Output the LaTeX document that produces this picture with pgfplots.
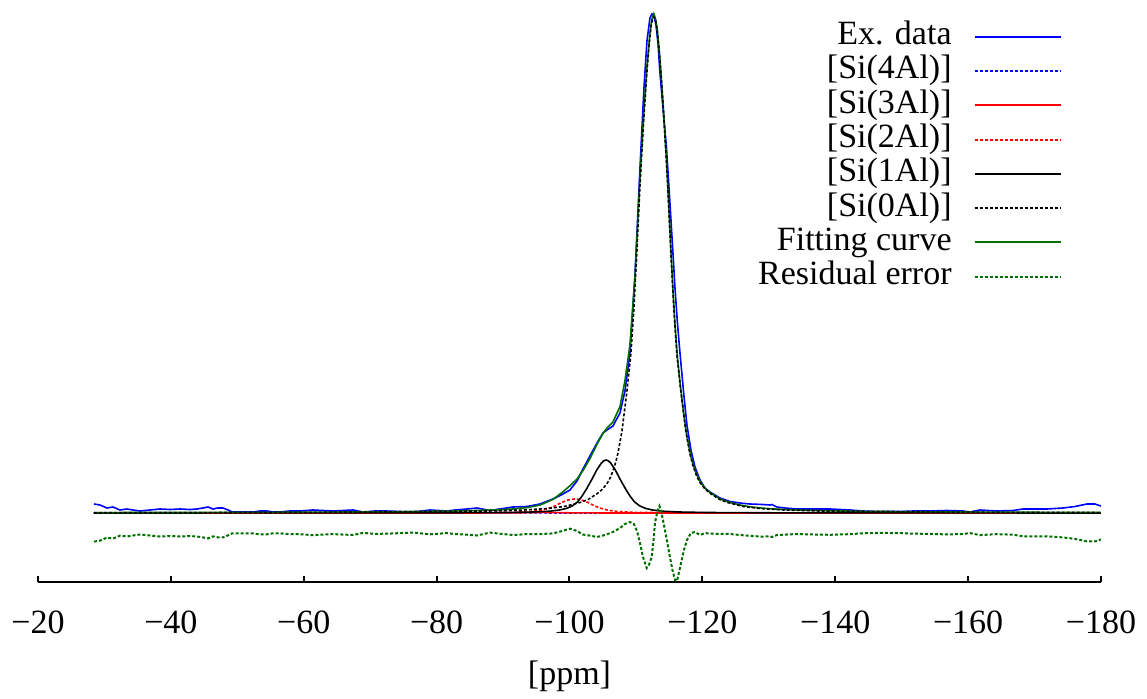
\documentclass[border=0pt]{standalone}
\usepackage{fontspec}
\setmainfont{Liberation Serif}
\usepackage{pgfplots}
\pgfplotsset{compat=1.18}
\newcommand\ff{\fontsize{17}{20}\selectfont}
\definecolor{dg}{RGB}{0,110,0}
\begin{document}
\begin{tikzpicture}
\begin{axis}[name=ax, scale only axis, width=531.5pt, height=291pt,
  x dir=reverse, xmin=-180, xmax=-20, ymin=-69, ymax=513,
  axis x line*=bottom, axis y line=none, axis line style={line width=1pt,-},
  xtick={-20,-40,-60,-80,-100,-120,-140,-160,-180},
  xticklabels={−20,−40,−60,−80,−100,−120,−140,−160,−180},
  xtick align=inside, major tick length=3pt, tick style={line width=1pt, black},
  tick label style={font=\ff}, xticklabel style={yshift=-11pt},
  xlabel={[ppm]}, label style={font=\ff},
  xlabel style={at={(axis description cs:0.5,0)}, anchor=center, yshift=-47pt},
  legend plot pos=right, legend cell align=right,
  legend image code/.code={\draw[#1] (0pt,0pt) -- (43pt,0pt);},
  legend style={at={(rel axis cs:0.969,0.974)}, anchor=north east, draw=none, fill=none,
    font=\ff, row sep=0pt, /tikz/column sep=10pt,
    nodes={inner xsep=1pt, inner ysep=0pt, text height=12.5pt, text depth=4.65pt}},
  every axis plot/.append style={line width=0.8pt},
  dotted style/.style={dash pattern=on 1.5pt off 1pt},
]
\addlegendimage{draw=blue, line width=1pt}
\addlegendentry{Ex. data}
\addlegendimage{draw=blue, line width=1pt, dash pattern=on 1.5pt off 1pt}
\addlegendentry{[Si(4Al)]}
\addlegendimage{draw=red, line width=1pt}
\addlegendentry{[Si(3Al)]}
\addlegendimage{draw=red, line width=1pt, dash pattern=on 1.5pt off 1pt}
\addlegendentry{[Si(2Al)]}
\addlegendimage{draw=black, line width=1pt}
\addlegendentry{[Si(1Al)]}
\addlegendimage{draw=black, line width=1pt, dash pattern=on 1.5pt off 1pt}
\addlegendentry{[Si(0Al)]}
\addlegendimage{draw=dg, line width=1pt}
\addlegendentry{Fitting curve}
\addlegendimage{draw=dg, line width=1pt, dash pattern=on 1.5pt off 1pt}
\addlegendentry{Residual error}

% Ex. data
\addplot[blue, forget plot] coordinates {
(-28.43,9)(-29.33,8)(-30.39,5)(-31.29,6)(-32.34,3)(-33.40,4)(-34.30,3)(-35.35,2)(-36.86,3)(-38.36,4)
(-39.87,3.5)(-41.37,4)(-42.88,3.5)(-43.93,4)(-44.83,5)(-45.59,6)(-46.34,4)(-47.09,5)(-47.84,5)(-48.60,3)
(-49.20,1)(-50.40,1)(-52.36,1)(-53.41,2)(-54.47,2)(-55.37,1)(-56.42,1)(-57.93,2)(-59.43,2)(-61.39,3)
(-62.90,2.5)(-64.40,2)(-65.91,2.5)(-67.41,3)(-68.92,1)(-70.72,2)(-72.53,2)(-74.49,1.5)(-76.44,1)(-79.00,3)
(-81.56,2)(-82.76,3)(-84.57,4)(-86.08,5)(-88.03,2.5)(-89.54,4)(-91.49,6)(-93.60,6.5)(-95.56,9)(-97.51,14)
(-99.02,19)(-100.07,23)(-101.13,32)(-102.03,44)(-103.08,57)(-104.14,70)(-105.04,80)(-105.64,83)(-106.54,87)
(-107.60,100)(-108.35,122)(-109.10,160)(-109.86,238)(-110.61,345)(-111.21,425)(-111.66,472)(-112.11,495)
(-112.41,499)(-112.72,497)(-113.02,488)(-113.32,470)(-113.62,440)(-114.07,405)(-114.60,365)(-115.12,310)
(-115.50,268)(-115.88,225)(-116.25,190)(-116.63,160)(-117.23,117)(-117.68,88)(-118.28,63)(-118.89,46)
(-119.64,33)(-120.39,25)(-121.14,21)(-122.65,15)(-124.15,11.5)(-125.66,10)(-127.16,9)(-129.12,8.5)
(-130.17,8)(-130.47,8.5)(-131.23,6)(-132.43,5)(-134.24,4)(-136.19,4)(-139.21,4)(-142.22,3)(-144.17,2)
(-146.73,1.5)(-149.74,1.5)(-151.70,2)(-154.26,2)(-156.81,2.5)(-159.22,2)(-160.28,1)(-161.78,3)(-164.34,2)
(-166.75,2.5)(-168.25,4)(-170.06,4)(-171.87,4)(-174.27,5)(-176.08,6.5)(-177.89,9)(-179.09,9)(-180,7)
};
% Si(4Al)
\addplot[blue, dotted style, forget plot] coordinates {
(-28.43,0)(-80,0)(-86,0.1)(-90,0.4)(-94,0.1)(-100,0)(-180,0)
};
% Si(3Al)
\addplot[red, forget plot] coordinates {
(-28.43,0)(-85,0)(-92,0.2)(-96,0.6)(-100,0.2)(-106,0)(-180,0)
};
% Si(2Al)
\addplot[red, dotted style, forget plot] coordinates {
(-28.43,0)(-75.8,0.1)(-86.8,0.3)(-91.8,0.7)(-94.3,1.5)(-95.8,2.8)(-96.8,4.5)(-97.8,7)(-98.8,10.5)
(-99.8,13)(-100.3,13.75)(-100.8,14)(-101.3,13.75)(-101.8,13)(-102.8,10.5)(-103.8,7)(-104.8,4.5)
(-105.8,2.8)(-107.3,1.5)(-109.8,0.7)(-114.8,0.3)(-125.8,0.1)(-180,0)
};
% Si(1Al)
\addplot[black, forget plot] coordinates {
(-28.43,0.02)(-65.5,0.1)(-80.5,0.2)(-90.5,0.5)(-94.5,1.0)(-97.0,1.8)(-98.5,3.0)(-99.5,4.5)(-100.4,7)
(-101.2,11)(-101.9,17)(-102.6,24.5)(-103.4,34)(-104.1,43)(-104.8,50)(-105.15,52.2)(-105.5,53)
(-105.85,52.2)(-106.2,50)(-106.9,43)(-107.6,34)(-108.4,24.5)(-109.1,17)(-109.8,11)(-110.6,7)(-111.5,4.5)
(-112.5,3.0)(-114.0,1.8)(-116.5,1.0)(-120.5,0.5)(-130.5,0.2)(-145.5,0.1)(-180,0.03)
};
% Fitting curve
\addplot[dg, forget plot] coordinates {
(-28.43,0.43)(-33.40,0.46)(-38.36,0.5)(-43.93,0.55)(-49.20,0.6)(-54.47,0.67)(-59.43,0.78)(-64.40,0.92)
(-68.92,1.09)(-72.53,1.3)(-76.44,1.53)(-79.00,1.68)(-82.76,2.0)(-86.08,2.5)(-89.54,3.33)(-91.49,4.0)
(-93.60,5.38)(-95.56,7.95)(-97.51,13.6)(-99.02,21.2)(-100.07,27.3)(-101.13,34.0)(-102.03,42.4)
(-103.08,54.4)(-104.14,68.8)(-105.04,79.5)(-105.64,85.0)(-106.54,91.0)(-107.60,106.4)(-108.35,132.3)
(-109.10,168.4)(-109.86,236.7)(-110.61,335.8)(-111.21,402.9)(-111.66,445.9)(-112.11,480.2)(-112.41,493.8)
(-112.70,499.3)(-112.99,493.2)(-113.24,482.0)(-113.62,453.9)(-114.07,411.2)(-114.60,352.3)(-115.12,282.6)
(-115.50,232.0)(-115.88,188.5)(-116.25,155.1)(-116.63,130.9)(-117.23,97.6)(-117.68,76.6)(-118.28,56.4)
(-118.89,42.7)(-119.64,31.6)(-120.39,24.9)(-121.14,20.5)(-122.65,14.1)(-124.15,10.5)(-125.66,8.0)
(-127.16,6.2)(-129.12,4.8)(-131.23,3.9)(-134.24,3.0)(-139.21,2.2)(-144.17,1.7)(-149.74,1.4)(-156.81,1.05)
(-164.34,0.85)(-171.87,0.68)(-180,0.58)
};
% Si(0Al)
\addplot[black, dotted style, forget plot] coordinates {
(-28.43,0.3)(-52.7,0.5)(-67.7,0.8)(-82.7,1.5)(-87.7,2.0)(-93.1,3.0)(-96.7,4.5)(-99.2,6.5)(-101.6,10.5)
(-102.8,13.5)(-104.2,19.5)(-105.0,24)(-105.7,30)(-106.2,36)(-106.8,47)(-107.3,60)(-107.9,82)(-108.65,122)
(-109.25,160)(-109.7,205)(-110.15,262)(-110.6,327)(-110.9,362)(-111.2,396)(-111.6,436)(-111.95,466)
(-112.3,488)(-112.5,494)(-112.7,496)(-112.9,494)(-113.1,488)(-113.45,466)(-113.8,436)(-114.2,396)
(-114.5,362)(-114.8,327)(-115.25,262)(-115.7,205)(-116.15,160)(-116.75,122)(-117.5,82)(-118.1,60)
(-118.6,47)(-119.2,36)(-119.7,30)(-120.4,24)(-121.2,19.5)(-122.6,13.5)(-123.8,10.5)(-126.2,6.5)
(-128.7,4.5)(-132.3,3.0)(-137.7,2.0)(-142.7,1.5)(-157.7,0.8)(-172.7,0.5)(-180,0.45)
};
% Residual error
\addplot[dg, dotted style, line width=1pt, forget plot] coordinates {
(-28.43,-28.6)(-29.33,-27.6)(-30.39,-24.6)(-31.29,-25.6)(-32.34,-22.6)(-33.40,-23.5)(-34.30,-22.5)
(-35.35,-21.5)(-36.86,-22.5)(-38.36,-23.5)(-39.87,-23)(-41.37,-23.5)(-42.88,-23)(-43.93,-23.5)(-44.83,-24.4)
(-45.59,-25.4)(-46.34,-23.4)(-47.09,-24.4)(-47.84,-24.4)(-48.60,-22.4)(-49.20,-20.4)(-50.40,-20.4)
(-52.36,-20.4)(-53.41,-21.4)(-54.47,-21.3)(-55.37,-20.3)(-56.42,-20.3)(-57.93,-21.25)(-59.43,-21.2)
(-61.39,-22.2)(-62.90,-21.6)(-64.40,-21.1)(-65.91,-21.55)(-67.41,-22)(-68.92,-19.9)(-70.72,-20.8)
(-72.53,-20.7)(-74.49,-20.1)(-76.44,-19.5)(-79.00,-21.3)(-81.56,-20.1)(-82.76,-21)(-84.57,-21.7)
(-86.08,-22.5)(-88.03,-19.6)(-89.54,-20.7)(-91.49,-22)(-93.60,-21.1)(-95.56,-21.05)(-97.51,-20.4)
(-99.02,-17.8)(-100.07,-15.7)(-101.13,-18)(-102.03,-21.6)(-103.08,-22.6)(-104.14,-24)(-105.34,-22)
(-106.54,-19)(-107.60,-15)(-108.35,-11)(-109.10,-9)(-109.70,-11)(-110.16,-18)(-110.61,-30)(-111.06,-44)
(-111.62,-55)(-111.96,-52)(-112.37,-44)(-112.64,-28)(-112.87,-10)(-113.24,2)(-113.54,7)(-113.77,3)
(-114.07,-7)(-114.60,-25)(-115.12,-44)(-115.50,-57)(-115.88,-67)(-116.18,-68)(-116.63,-55)(-117.23,-37)
(-117.68,-27)(-118.28,-20)(-118.89,-19)(-119.64,-22)(-120.39,-20.1)(-121.14,-20.5)(-122.65,-20.9)
(-124.15,-21)(-125.66,-22)(-127.16,-22.8)(-129.12,-23.7)(-130.17,-23.2)(-130.47,-24)(-131.23,-22)
(-132.43,-21.6)(-134.24,-21)(-136.19,-21.4)(-139.21,-21.8)(-142.22,-21.15)(-144.17,-20.3)(-146.73,-19.9)
(-149.74,-20.1)(-151.70,-20.7)(-154.26,-20.8)(-156.81,-21.45)(-159.22,-21)(-160.28,-20.1)(-161.78,-22.1)
(-164.34,-21.15)(-166.75,-21.7)(-168.25,-23.25)(-170.06,-23.3)(-171.87,-23.3)(-174.27,-24.4)
(-176.08,-25.9)(-177.89,-28.4)(-179.09,-28.4)(-180,-26.4)
};
\end{axis}
\path (ax.south west) ++(-19pt,-55.5pt) coordinate (bbl);
\path (ax.north east) ++(23pt,0pt) coordinate (bbr);
\path (bbl) rectangle (bbr);
\end{tikzpicture}
\end{document}
